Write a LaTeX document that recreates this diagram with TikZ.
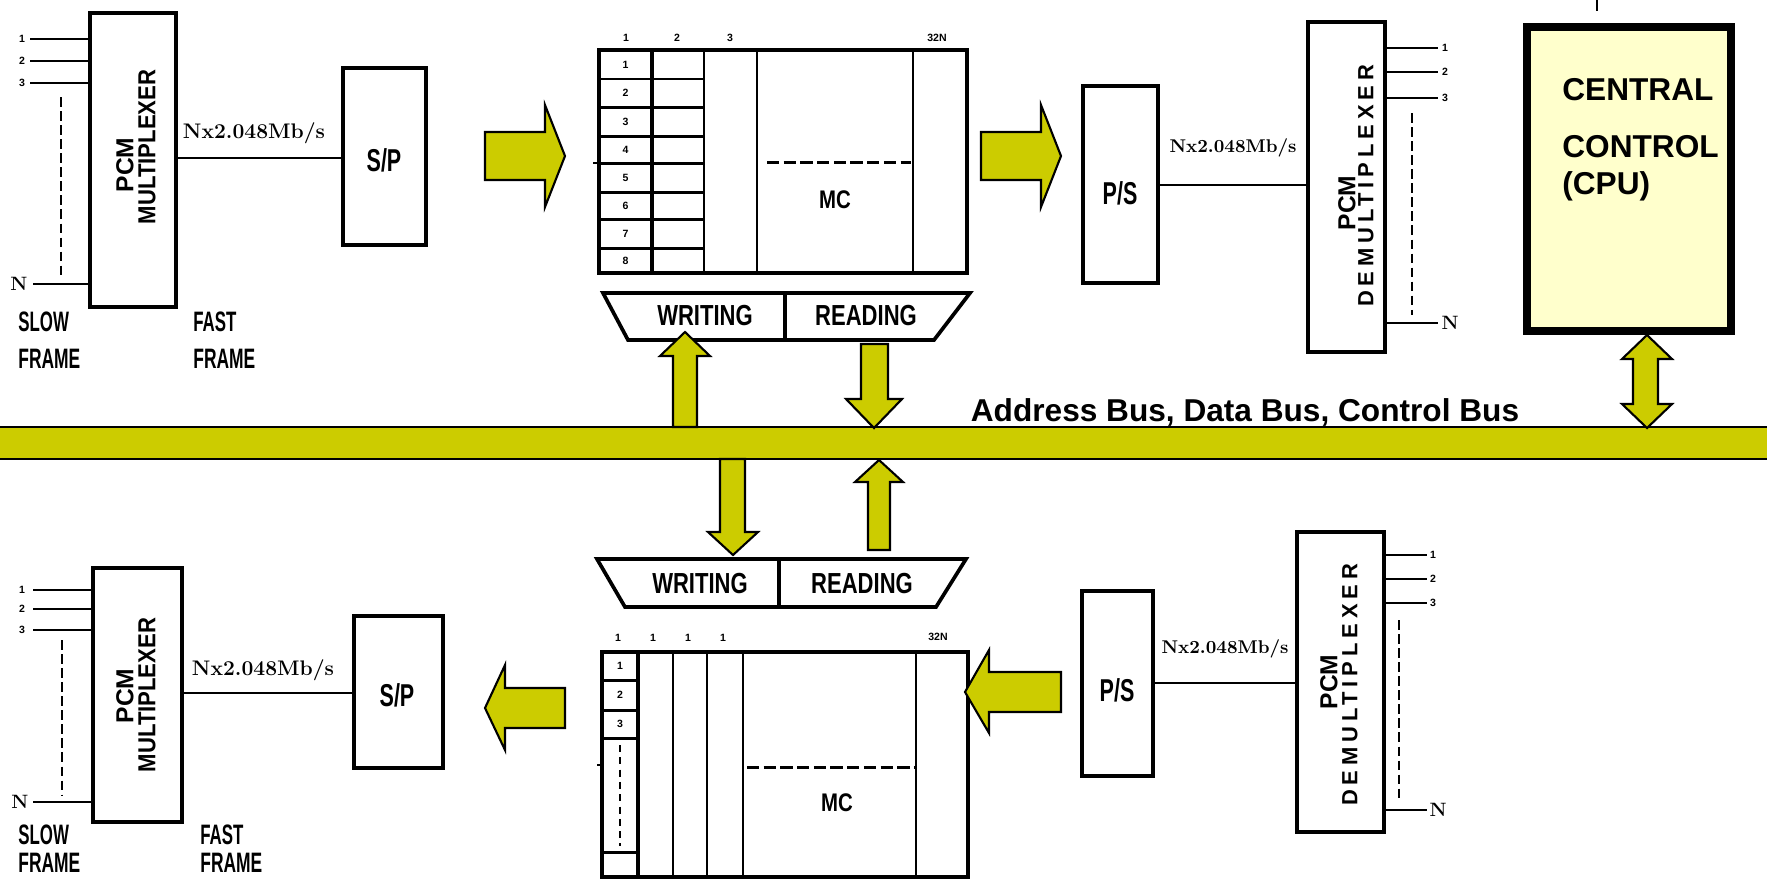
\documentclass[tikz,border=0pt]{standalone}
\usepackage{fontspec}
\newfontfamily\arialf{Liberation Sans}
\newfontfamily\spacedf[LetterSpace=22]{Liberation Sans}
\definecolor{ylw}{RGB}{204,204,0}
\definecolor{cpuy}{RGB}{255,255,204}
\newcommand\hs[2]{\scalebox{#1}[1]{#2}}
\begin{document}
\begin{tikzpicture}[x=0.02cm,y=-0.02cm,
  box/.style={draw, line width=2.1pt, inner sep=0pt},
  wire/.style={line width=1.5pt},
  fine/.style={line width=1.1pt},
  dashwire/.style={line width=1pt, dash pattern=on 5.5pt off 2.5pt},
  mcdash/.style={line width=1.7pt, dash pattern=on 7pt off 2.5pt},
  fat/.style={draw=black, fill=ylw, line width=1.2pt, line join=miter},
  rate/.style={font=\fontsize{12}{14}\selectfont\bfseries, inner sep=0pt},
  rater/.style={font=\fontsize{10.5}{12}\selectfont\bfseries, inner sep=0pt},
  pin/.style={font=\arialf\bfseries\fontsize{6}{7}\selectfont, inner sep=0pt},
  nlab/.style={font=\fontsize{11}{13}\selectfont\bfseries, inner sep=0pt},
  frame/.style={font=\arialf\bfseries\fontsize{16}{18}\selectfont, inner sep=0pt, anchor=west},
  sp/.style={font=\arialf\bfseries\fontsize{18}{20}\selectfont, inner sep=0pt},
  wr/.style={font=\arialf\bfseries\fontsize{16.5}{18}\selectfont, inner sep=0pt},
  mctxt/.style={font=\arialf\bfseries\fontsize{14.5}{16}\selectfont, inner sep=0pt},
  pcm/.style={font=\arialf\bfseries\fontsize{14}{16}\selectfont, inner sep=0pt, rotate=90},
  dpcm/.style={font=\spacedf\bfseries\fontsize{12.5}{14}\selectfont, inner sep=0pt, rotate=90},
  cpuf/.style={font=\arialf\bfseries\fontsize{18}{20}\selectfont, inner sep=0pt, anchor=west},
  busbar/.style={draw, fill=ylw, line width=1.2pt, minimum width=37cm, minimum height=0.64cm, inner sep=0pt}
]
\useasboundingbox (0,0) rectangle (1767,880);

% ---------------- bus ----------------
\node[busbar] (bus) at (883.5,443) {};
\node[font=\arialf\bfseries\fontsize{18}{20}\selectfont, inner sep=0pt] (buslbl) at (1245,412) {Address Bus, Data Bus, Control Bus};

% ---------------- top left: multiplexer ----------------
\node[box, minimum width=1.72cm, minimum height=5.88cm] (mux1) at (133,160) {};
\node[pcm] (mux1a) at (125,165) {PCM};
\node[pcm] (mux1b) at (147,147) {\hs{0.9}{MULTIPLEXER}};
\foreach \y/\t [count=\i] in {39/1,61/2,83/3}{
  \coordinate (a1\i) at (30,\y);
  \draw[wire] (a1\i) -- (a1\i -| mux1.west);
  \node[pin] (la1\i) at (22,\y) {\t};
}
\coordinate (a1n) at (33,284);
\draw[wire] (a1n) -- (a1n -| mux1.west);
\node[nlab] (la1n) at (19,284) {N};
\coordinate (d1a) at (61,97); \coordinate (d1b) at (61,278);
\draw[dashwire] (d1a) -- (d1b);
\node[frame] (slow1) at (18,322) {\hs{0.6}{SLOW}};
\node[frame] (frm1) at (18,359) {\hs{0.62}{FRAME}};
\node[frame] (fast1) at (193,322) {\hs{0.6}{FAST}};
\node[frame] (frm1b) at (193,359) {\hs{0.62}{FRAME}};

\node[box, minimum width=1.66cm, minimum height=3.54cm] (sp1) at (384.5,156.5) {};
\node[sp] (sp1t) at (384,160) {\hs{0.68}{S/P}};
\coordinate (w1) at (0,158);
\draw[wire] (mux1.east |- w1) -- (sp1.west |- w1);
\node[rate] (r1) at (254,133) {Nx2.048Mb/s};

% arrow into memory
\draw[fat] (485,132) -- (545,132) -- (545,105) -- (565,156) -- (545,207) -- (545,180) -- (485,180) -- cycle;

% ---------------- top memory ----------------
\node[box, minimum width=7.36cm, minimum height=4.46cm] (mem1) at (783,161.5) {};
\draw[line width=1.9pt] (652,50) -- (652,273);
\draw[fine] (704,50) -- (704,273);
\draw[wire] (757,50) -- (757,273);
\draw[wire] (913,50) -- (913,273);
\foreach \y in {79,107,136,163,192,219,248}{
  \draw[line width=1.7pt] (599,\y) -- (704,\y);
}
\foreach \y [count=\i] in {64.5,93,121.5,149.5,177.5,205.5,233.5,260.5}{
  \node[pin] (ra\i) at (625.5,\y) {\i};
}
\draw[wire] (593,163) -- (599,163);
\node[pin] (ha1) at (626,38) {1};
\node[pin] (ha2) at (677,38) {2};
\node[pin] (ha3) at (730,38) {3};
\node[pin] (ha4) at (937,38) {32N};
\draw[mcdash] (767,162) -- (911,162);
\node[mctxt] (mc1) at (835,200) {\hs{0.8}{MC}};

% writing / reading (top)
\draw[box] (603,293) -- (970,293) -- (934,340) -- (628,340) -- cycle;
\draw[box] (785,293) -- (785,340);
\node[wr] (wt1) at (705,316) {\hs{0.76}{WRITING}};
\node[wr] (rt1) at (866,316) {\hs{0.76}{READING}};

% bus arrows (top)
\draw[fat] (673,427) -- (673,356) -- (660,356) -- (685,332) -- (710,356) -- (697,356) -- (697,427) -- cycle;
\draw[fat] (861,344) -- (888,344) -- (888,399) -- (902,399) -- (874,428) -- (846,399) -- (861,399) -- cycle;

% arrow to P/S
\draw[fat] (981,132) -- (1041,132) -- (1041,105) -- (1061,156) -- (1041,207) -- (1041,180) -- (981,180) -- cycle;

% ---------------- top right: P/S and demultiplexer ----------------
\node[box, minimum width=1.5cm, minimum height=3.94cm] (ps1) at (1120.5,184.5) {};
\node[sp] (ps1t) at (1120,193) {\hs{0.68}{P/S}};
\node[box, minimum width=1.54cm, minimum height=6.6cm] (dmx1) at (1346.5,187) {};
\node[pcm] (dmx1a) at (1347,203) {PCM};
\node[dpcm] (dmx1b) at (1366,186) {DEMULTIPLEXER};
\coordinate (w2) at (0,185);
\draw[wire] (ps1.east |- w2) -- (dmx1.west |- w2);
\node[rater] (r2) at (1233,148) {Nx2.048Mb/s};
\foreach \y/\t [count=\i] in {48/1,72/2,98/3}{
  \coordinate (b1\i) at (1438,\y);
  \draw[wire] (b1\i -| dmx1.east) -- (b1\i);
  \node[pin] (lb1\i) at (1445,\y) {\t};
}
\coordinate (b1n) at (1438,323);
\draw[wire] (b1n -| dmx1.east) -- (b1n);
\node[nlab] (lb1n) at (1450,323) {N};
\coordinate (d2a) at (1412,113); \coordinate (d2b) at (1412,315);
\draw[dashwire] (d2a) -- (d2b);

% ---------------- central control ----------------
\coordinate (tk1) at (1597,0); \coordinate (tk2) at (1597,11);
\draw[fine] (tk1) -- (tk2);
\node[draw, line width=4.5pt, fill=cpuy, minimum width=4.08cm, minimum height=6.08cm, inner sep=0pt] (cpu) at (1629,179) {};
\node[cpuf] (cpu1) at (1562,90) {CENTRAL};
\node[cpuf] (cpu2) at (1562,147) {CONTROL};
\node[cpuf] (cpu3) at (1562,186) {(CPU)};
\draw[fat] (1633,359) -- (1622,359) -- (1647,335) -- (1672,359) -- (1658,359) -- (1658,404) -- (1672,404) -- (1647,428) -- (1622,404) -- (1633,404) -- cycle;

% ---------------- bottom: bus arrows ----------------
\draw[fat] (720,459) -- (720,532) -- (708,532) -- (733,555) -- (758,532) -- (745,532) -- (745,459) -- cycle;
\draw[fat] (868,550) -- (868,482) -- (855,482) -- (879,460) -- (903,482) -- (890,482) -- (890,550) -- cycle;

% writing / reading (bottom)
\draw[box] (597,559) -- (966,559) -- (936,607) -- (625,607) -- cycle;
\draw[box] (779,559) -- (779,607);
\node[wr] (wt2) at (700,584) {\hs{0.76}{WRITING}};
\node[wr] (rt2) at (862,584) {\hs{0.76}{READING}};

% ---------------- bottom memory ----------------
\node[box, minimum width=7.32cm, minimum height=4.5cm] (mem2) at (785,764.5) {};
\draw[line width=1.9pt] (638,652) -- (638,877);
\draw[fine] (673,652) -- (673,877);
\draw[fine] (707,652) -- (707,877);
\draw[fine] (743,652) -- (743,877);
\draw[wire] (916,652) -- (916,877);
\foreach \y in {680,710,738,852}{
  \draw[line width=1.7pt] (602,\y) -- (638,\y);
}
\node[pin] (rb1) at (620,666) {1};
\node[pin] (rb2) at (620,695) {2};
\node[pin] (rb3) at (620,724) {3};
\coordinate (rd1) at (620,745); \coordinate (rd2) at (620,846);
\draw[line width=1.4pt, dash pattern=on 4pt off 3pt] (rd1) -- (rd2);
\draw[wire] (597,765) -- (602,765);
\node[pin] (hb1) at (618,638) {1};
\node[pin] (hb2) at (653,638) {1};
\node[pin] (hb3) at (688,638) {1};
\node[pin] (hb4) at (723,638) {1};
\node[pin] (hb5) at (938,637) {32N};
\draw[mcdash] (747,767) -- (916,767);
\node[mctxt] (mc2) at (837,803) {\hs{0.8}{MC}};

% arrows (bottom)
\draw[fat] (565,688) -- (505,688) -- (505,665) -- (485,708) -- (505,750) -- (505,728) -- (565,728) -- cycle;
\draw[fat] (1061,672) -- (989,672) -- (989,650) -- (965,692) -- (989,733) -- (989,712) -- (1061,712) -- cycle;

% ---------------- bottom left: multiplexer ----------------
\node[box, minimum width=1.78cm, minimum height=5.08cm] (mux2) at (137.5,695) {};
\node[pcm] (mux2a) at (125,696) {PCM};
\node[pcm] (mux2b) at (147,695) {\hs{0.9}{MULTIPLEXER}};
\foreach \y/\t [count=\i] in {590/1,609/2,630/3}{
  \coordinate (a2\i) at (33,\y);
  \draw[wire] (a2\i) -- (a2\i -| mux2.west);
  \node[pin] (la2\i) at (22,\y) {\t};
}
\coordinate (a2n) at (33,802);
\draw[wire] (a2n) -- (a2n -| mux2.west);
\node[nlab] (la2n) at (20,802) {N};
\coordinate (d3a) at (62,640); \coordinate (d3b) at (62,795);
\draw[dashwire] (d3a) -- (d3b);
\node[frame] (slow2) at (18,835) {\hs{0.6}{SLOW}};
\node[frame] (frm2) at (18,863) {\hs{0.62}{FRAME}};
\node[frame] (fast2) at (200,835) {\hs{0.6}{FAST}};
\node[frame] (frm2b) at (200,863) {\hs{0.62}{FRAME}};

\node[box, minimum width=1.78cm, minimum height=3.04cm] (sp2) at (398.5,692) {};
\node[sp] (sp2t) at (397,695) {\hs{0.68}{S/P}};
\coordinate (w3) at (0,693);
\draw[wire] (mux2.east |- w3) -- (sp2.west |- w3);
\node[rate] (r3) at (263,670) {Nx2.048Mb/s};

% ---------------- bottom right: P/S and demultiplexer ----------------
\node[box, minimum width=1.42cm, minimum height=3.7cm] (ps2) at (1117.5,683.5) {};
\node[sp] (ps2t) at (1117,690) {\hs{0.68}{P/S}};
\node[box, minimum width=1.74cm, minimum height=6.0cm] (dmx2) at (1340.5,682) {};
\node[pcm] (dmx2a) at (1329,682) {PCM};
\node[dpcm] (dmx2b) at (1350,685) {DEMULTIPLEXER};
\coordinate (w4) at (0,683);
\draw[wire] (ps2.east |- w4) -- (dmx2.west |- w4);
\node[rater] (r4) at (1225,649) {Nx2.048Mb/s};
\foreach \y/\t [count=\i] in {555/1,579/2,603/3}{
  \coordinate (b2\i) at (1427,\y);
  \draw[wire] (b2\i -| dmx2.east) -- (b2\i);
  \node[pin] (lb2\i) at (1433,\y) {\t};
}
\coordinate (b2n) at (1427,810);
\draw[wire] (b2n -| dmx2.east) -- (b2n);
\node[nlab] (lb2n) at (1438,810) {N};
\coordinate (d4a) at (1399,620); \coordinate (d4b) at (1399,800);
\draw[dashwire] (d4a) -- (d4b);
\end{tikzpicture}
\end{document}
